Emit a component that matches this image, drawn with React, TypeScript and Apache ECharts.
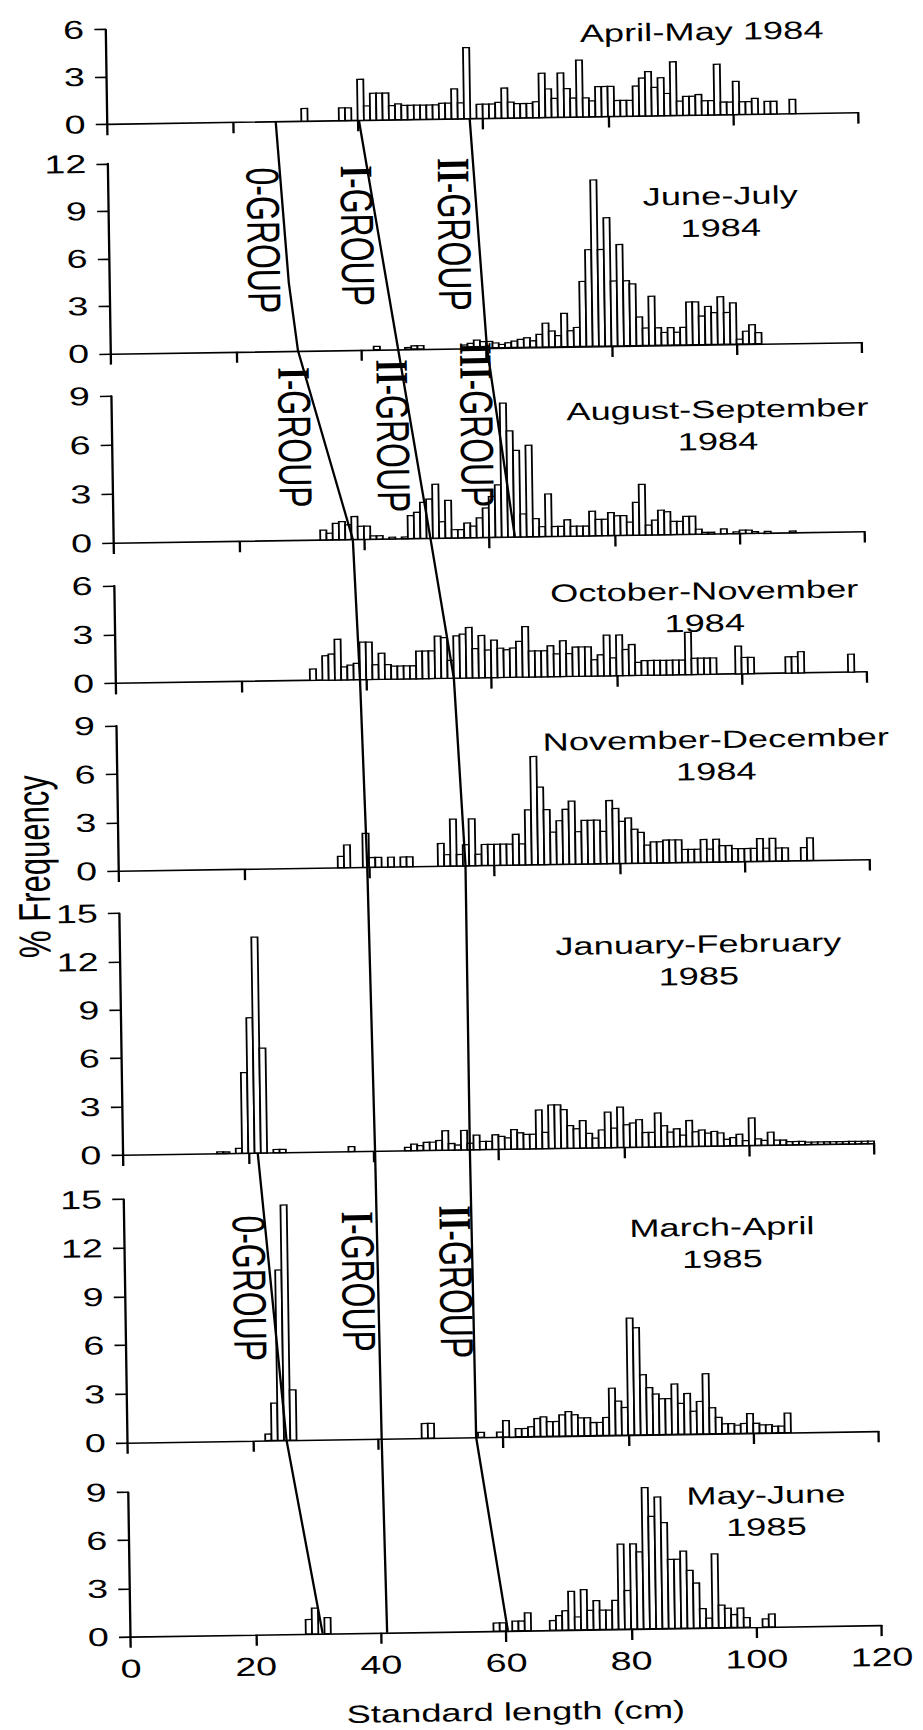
import React, { useEffect, useRef } from "react";
import * as echarts from "echarts";

// ---- scan geometry (the reference figure is stretched sideways and slightly rotated) ----
const SX = 1.45;
const ROT = -0.88;
const W = 923 / SX;
const H = 1730;
const ux = (x: number) => (x - 461.5) / SX + W / 2;

const FONT = "'Liberation Sans', Arial, sans-serif";

// ---- axes ----
const X_MIN = 0;
const X_MAX = 120;
const X_STEP = 20;
const Y_STEP = 3;
const panelMax = [6, 12, 9, 6, 9, 15, 15, 9];

// ---- panel titles ----
const panelTitles: string[][] = [
  ["April-May 1984"],
  ["June-July", "1984"],
  ["August-September", "1984"],
  ["October-November", "1984"],
  ["November-December", "1984"],
  ["January-February", "1985"],
  ["March-April", "1985"],
  ["May-June", "1985"],
];

// ---- histogram data: [bin start (cm), % frequency] ----
const bars1: [number, number][] = [
  [31, 0.8], [37, 0.8], [38, 0.8], [40, 2.6], [41, 0.9], [42, 1.7], [43, 1.7], [44, 1.7], [45, 0.9], [46, 1.0],
  [47, 0.9], [48, 0.9], [49, 0.9], [50, 0.9], [51, 0.9], [52, 0.9], [53, 1.0], [54, 1.0], [55, 1.9], [56, 1.0],
  [57, 4.5], [59, 0.9], [60, 0.9], [61, 0.9], [62, 1.0], [63, 1.9], [64, 1.0], [65, 0.9], [66, 0.9], [67, 0.9],
  [68, 1.0], [69, 2.8], [70, 1.8], [71, 1.2], [72, 2.8], [73, 1.8], [74, 1.2], [75, 3.6], [76, 1.2], [77, 1.0],
  [78, 1.9], [79, 1.9], [80, 1.9], [81, 1.0], [82, 1.0], [83, 1.0], [84, 1.9], [85, 2.4], [86, 2.8], [87, 1.8],
  [88, 2.4], [89, 1.4], [90, 3.4], [91, 0.9], [92, 1.2], [93, 1.2], [94, 1.3], [95, 0.9], [96, 0.9], [97, 3.2],
  [98, 0.8], [99, 0.8], [100, 2.1], [101, 0.8], [102, 0.8], [103, 1.0], [105, 0.8], [106, 0.8], [109, 0.9],
];
const bars2: [number, number][] = [
  [42, 0.2], [47, 0.1], [48, 0.2], [49, 0.2], [56, 0.2], [57, 0.3], [58, 0.5], [59, 0.4], [60, 0.4], [61, 0.3],
  [62, 0.2], [63, 0.3], [64, 0.4], [65, 0.5], [66, 0.6], [67, 0.4], [68, 0.8], [69, 1.5], [70, 1.0], [71, 0.7],
  [72, 2.1], [73, 1.0], [74, 1.2], [75, 4.1], [76, 6.1], [77, 10.5], [78, 6.1], [79, 8.1], [80, 4.1], [81, 6.4],
  [82, 4.1], [83, 3.9], [84, 1.8], [85, 1.1], [86, 3.1], [87, 1.1], [88, 0.8], [89, 1.1], [90, 0.8], [91, 1.1],
  [92, 2.7], [93, 2.7], [94, 1.8], [95, 2.4], [96, 2.0], [97, 3.0], [98, 2.0], [99, 2.6], [100, 0.3], [101, 0.8],
  [102, 1.2], [103, 0.7],
];
const bars3: [number, number][] = [
  [33, 0.6], [34, 0.4], [35, 1.0], [36, 1.1], [37, 0.9], [38, 1.4], [39, 0.8], [40, 0.8], [41, 0.2], [42, 0.2],
  [44, 0.1], [46, 0.1], [47, 1.4], [48, 1.6], [49, 2.2], [50, 2.4], [51, 3.3], [52, 1.0], [53, 2.3], [54, 0.5],
  [55, 0.5], [56, 0.9], [57, 0.7], [58, 1.2], [59, 1.8], [60, 2.5], [61, 3.2], [62, 8.2], [63, 6.5], [64, 5.3],
  [65, 1.4], [66, 5.6], [67, 1.1], [68, 0.6], [69, 2.6], [70, 0.6], [71, 0.6], [72, 1.0], [73, 0.6], [74, 0.6],
  [75, 0.6], [76, 1.5], [77, 1.0], [78, 1.0], [79, 1.4], [80, 1.2], [81, 1.2], [82, 0.8], [83, 2.0], [84, 3.1],
  [85, 0.6], [86, 0.9], [87, 1.5], [88, 1.4], [89, 0.8], [90, 0.8], [91, 1.1], [92, 1.1], [93, 0.3], [94, 0.1],
  [95, 0.1], [97, 0.3], [99, 0.1], [100, 0.2], [101, 0.2], [102, 0.1], [104, 0.1], [108, 0.1],
];
const bars4: [number, number][] = [
  [31, 0.7], [33, 1.5], [34, 1.6], [35, 2.5], [36, 0.8], [37, 0.9], [38, 1.0], [39, 2.3], [40, 2.3], [41, 0.9],
  [42, 1.6], [43, 0.9], [44, 0.8], [45, 0.8], [46, 0.8], [47, 0.8], [48, 1.7], [49, 1.7], [50, 1.7], [51, 2.6],
  [52, 2.5], [53, 1.1], [54, 2.6], [55, 2.7], [56, 3.1], [57, 1.8], [58, 2.6], [59, 1.7], [60, 2.3], [61, 1.8],
  [62, 1.7], [63, 1.8], [64, 2.2], [65, 3.1], [66, 1.6], [67, 1.6], [68, 1.6], [69, 1.9], [70, 1.4], [71, 2.2],
  [72, 1.4], [73, 1.8], [74, 1.8], [75, 1.8], [76, 1.0], [77, 1.3], [78, 2.5], [79, 1.1], [80, 2.5], [81, 1.6],
  [82, 1.9], [83, 0.8], [84, 0.9], [85, 0.9], [86, 0.9], [87, 0.9], [88, 0.9], [89, 0.9], [90, 0.9], [91, 2.6],
  [92, 1.0], [93, 1.0], [94, 1.0], [95, 1.0], [99, 1.7], [100, 1.0], [101, 1.0], [107, 1.0], [108, 1.0], [109, 1.3],
  [117, 1.1],
];
const bars5: [number, number][] = [
  [35, 0.7], [36, 1.4], [39, 2.1], [40, 0.6], [41, 0.6], [43, 0.6], [45, 0.6], [46, 0.6], [51, 1.4], [52, 0.7],
  [53, 2.9], [54, 0.7], [55, 1.3], [56, 2.9], [57, 0.7], [58, 1.3], [59, 1.3], [60, 1.3], [61, 1.3], [62, 1.3],
  [63, 1.9], [64, 1.3], [65, 3.4], [66, 6.7], [67, 4.8], [68, 3.4], [69, 2.0], [70, 2.7], [71, 3.4], [72, 3.9],
  [73, 2.0], [74, 2.7], [75, 2.7], [76, 2.7], [77, 2.0], [78, 3.9], [79, 3.4], [80, 2.6], [81, 2.8], [82, 2.1],
  [83, 1.9], [84, 1.1], [85, 1.3], [86, 1.3], [87, 1.4], [88, 1.4], [89, 1.4], [90, 0.8], [91, 0.8], [92, 0.8],
  [93, 1.4], [94, 0.8], [95, 1.4], [96, 1.0], [97, 1.0], [98, 0.8], [99, 0.8], [100, 0.8], [101, 0.8], [102, 1.4],
  [103, 0.8], [104, 1.4], [105, 0.8], [106, 0.8], [109, 0.8], [110, 1.4],
];
const bars6: [number, number][] = [
  [15, 0.1], [16, 0.1], [18, 0.3], [19, 5.0], [20, 8.4], [21, 13.4], [22, 6.5], [24, 0.2], [25, 0.2], [36, 0.3],
  [45, 0.2], [46, 0.4], [47, 0.3], [48, 0.5], [49, 0.5], [50, 0.6], [51, 1.2], [52, 0.4], [53, 0.3], [54, 1.2],
  [55, 0.4], [56, 0.9], [57, 0.5], [58, 0.5], [59, 0.9], [60, 0.8], [61, 0.7], [62, 1.2], [63, 1.0], [64, 0.9],
  [65, 0.9], [66, 2.4], [67, 1.0], [68, 2.7], [69, 2.7], [70, 2.4], [71, 1.4], [72, 1.2], [73, 1.7], [74, 0.9],
  [75, 0.6], [76, 1.1], [77, 2.2], [78, 1.2], [79, 2.5], [80, 1.4], [81, 1.5], [82, 1.7], [83, 0.9], [84, 0.9],
  [85, 2.1], [86, 1.3], [87, 0.9], [88, 1.1], [89, 0.7], [90, 1.6], [91, 0.9], [92, 1.0], [93, 0.8], [94, 0.9],
  [95, 0.8], [96, 0.4], [97, 0.5], [98, 0.7], [99, 0.3], [100, 1.7], [101, 0.4], [102, 0.3], [103, 0.8], [104, 0.3],
  [105, 0.3], [106, 0.2], [107, 0.2], [108, 0.2], [109, 0.15], [110, 0.15], [111, 0.15], [112, 0.15], [113, 0.15],
  [114, 0.15], [115, 0.15], [116, 0.15], [117, 0.15], [118, 0.15], [119, 0.15],
];
const bars7: [number, number][] = [
  [22, 0.4], [23, 2.3], [24, 10.5], [25, 14.5], [26, 3.1], [47, 0.9], [48, 0.9], [56, 0.3], [59, 0.3], [60, 1.0],
  [62, 0.5], [63, 0.5], [64, 0.6], [65, 1.1], [66, 1.2], [67, 0.9], [68, 0.9], [69, 1.3], [70, 1.5], [71, 1.3],
  [72, 1.1], [73, 1.1], [74, 0.8], [75, 0.8], [76, 1.1], [77, 2.9], [78, 2.1], [79, 1.7], [80, 7.2], [81, 6.6],
  [82, 3.7], [83, 2.9], [84, 2.5], [85, 2.2], [86, 2.2], [87, 3.1], [88, 1.9], [89, 2.5], [90, 1.4], [91, 2.0],
  [92, 3.7], [93, 1.6], [94, 1.0], [95, 0.6], [96, 0.6], [97, 0.5], [98, 0.6], [99, 1.2], [100, 0.6], [101, 0.5],
  [102, 0.5], [103, 0.4], [104, 0.4], [105, 1.2],
];
const bars8: [number, number][] = [
  [28, 0.9], [29, 1.6], [31, 1.0], [58, 0.5], [59, 0.5], [61, 0.6], [62, 0.6], [63, 1.1], [67, 0.6], [68, 0.9],
  [69, 1.2], [70, 2.4], [71, 0.8], [72, 2.5], [73, 1.2], [74, 1.8], [75, 1.2], [76, 1.2], [77, 1.8], [78, 5.3],
  [79, 2.4], [80, 5.3], [81, 4.8], [82, 8.8], [83, 7.0], [84, 8.2], [85, 6.6], [86, 4.3], [87, 4.3], [88, 4.8],
  [89, 3.6], [90, 2.8], [91, 1.2], [92, 0.6], [93, 4.6], [94, 1.4], [95, 1.2], [96, 0.8], [97, 1.2], [98, 0.6],
  [101, 0.5], [102, 0.8],
];
const panelBars = [bars1, bars2, bars3, bars4, bars5, bars6, bars7, bars8];

// ---- cohort (age-group) lines: [panel index, length cm, value in that panel] ----
const lineA: [number, number, number][] = [
  [0, 26.9, 0], [1, 28.6, 4.3], [1, 29.9, 0], [2, 38.2, 0], [3, 39.0, 0], [4, 39.7, 0], [5, 40.25, 0], [6, 40.6, 0], [7, 41.0, 0],
];
const lineB: [number, number, number][] = [
  [0, 40.2, 0], [1, 45.9, 0], [2, 50.6, 0], [3, 54.0, 0], [4, 55.4, 0], [5, 55.4, 0], [6, 55.7, 0], [7, 60.3, 0],
];
const lineC: [number, number, number][] = [[0, 57.9, 0], [1, 60.1, 0], [2, 64.1, 0]];
const lineD: [number, number, number][] = [[5, 21.5, 0], [6, 25.4, 0], [7, 30.7, 0]];
const cohortLines = [lineA, lineB, lineC, lineD];

// ---- cohort labels: [numeral, panel, cm, value] ----
const groupLabels: [string, number, number, number][] = [
  ["0", 1, 24.7, 7.0], ["I", 1, 39.7, 7.2], ["II", 1, 55.2, 7.2],
  ["I", 2, 29.2, 6.3], ["II", 2, 44.9, 6.3], ["III", 2, 58.3, 6.9],
  ["0", 6, 19.9, 9.4], ["I", 6, 37.3, 9.7], ["II", 6, 52.9, 9.6],
];

// ---- layout (reference pixel frame) ----
const panelTop = [24.1, 158.3, 390.8, 580.5, 720.5, 908.1, 1194.1, 1487.1];
const panelBottom = [118.8, 348.3, 537.8, 678.1, 865.8, 1149.8, 1437.5, 1631.5];
const titleCenter: [number, number][] = [
  [714.6, 35.5], [730.7, 216], [724.6, 429.5], [708.6, 611], [717.9, 759.5], [697.3, 964], [716.5, 1247], [756.4, 1515.6],
];
const AXIS_LEFT = 119;
const AXIS_WIDTH = 751;

export default function App() {
  const ref = useRef<HTMLDivElement>(null);

  useEffect(() => {
    const el = ref.current;
    if (!el) return;
    const chart = echarts.init(el, null, { renderer: "svg" });
    const lineStyle = { color: "#000", width: 1.6 };

    const grid = panelMax.map((_, i) => ({
      left: ux(AXIS_LEFT),
      width: AXIS_WIDTH / SX,
      top: panelTop[i],
      height: panelBottom[i] - panelTop[i],
      containLabel: false,
      outerBoundsMode: "none",
    }));
    const xAxis = panelMax.map((_, i) => ({
      type: "value",
      gridIndex: i,
      min: X_MIN,
      max: X_MAX,
      interval: X_STEP,
      axisLine: { show: true, lineStyle },
      axisTick: { show: true, length: 11, lineStyle },
      axisLabel: { show: i === 7, margin: 19, fontSize: 26, color: "#000", fontFamily: FONT },
      splitLine: { show: false },
    }));
    const yAxis = panelMax.map((m, i) => ({
      type: "value",
      gridIndex: i,
      min: 0,
      max: m,
      interval: Y_STEP,
      axisLine: { show: true, lineStyle },
      axisTick: { show: true, length: 8, lineStyle },
      axisLabel: { margin: 15, fontSize: 26, color: "#000", fontFamily: FONT },
      splitLine: { show: false },
    }));
    const series = panelBars.map((d, i) => ({
      type: "custom",
      xAxisIndex: i,
      yAxisIndex: i,
      data: d,
      encode: { x: 0, y: 1 },
      silent: true,
      renderItem: (_p: any, api: any) => {
        const x0 = api.value(0) as number;
        const v = api.value(1) as number;
        const a = api.coord([x0, 0]);
        const b = api.coord([x0 + 1, v]);
        return {
          type: "rect",
          shape: { x: a[0], y: b[1], width: b[0] - a[0], height: a[1] - b[1] },
          style: { fill: "#fff", stroke: "#000", lineWidth: 1.25 },
        };
      },
    }));

    chart.setOption({
      animation: false,
      backgroundColor: "#fff",
      grid,
      xAxis,
      yAxis,
      series,
    });

    const px = (p: number, cm: number, v: number) =>
      chart.convertToPixel({ gridIndex: p } as any, [cm, v]) as number[];

    const graphic: any[] = [];
    cohortLines.forEach((ln) => {
      graphic.push({
        type: "polyline",
        silent: true,
        z: 100,
        shape: { points: ln.map(([p, cm, v]) => px(p, cm, v)) },
        style: { stroke: "#000", lineWidth: 1.6, fill: null },
      });
    });
    groupLabels.forEach(([num, p, cm, v]) => {
      const [x, y] = px(p, cm, v);
      graphic.push({
        type: "text",
        x,
        y,
        rotation: -Math.PI / 2,
        z: 101,
        style: {
          text: num === "0" ? "{g|0-GROUP}" : `{n|${num}}{g|-GROUP}`,
          textAlign: "center",
          textVerticalAlign: "middle",
          fill: "#000",
          rich: {
            n: { fontFamily: "'Liberation Serif', serif", fontWeight: "bold", fontSize: 32, fill: "#000" },
            g: { fontFamily: FONT, fontSize: 32, fill: "#000" },
          },
        },
      });
    });
    panelTitles.forEach((lines, i) => {
      const [cx, cy] = titleCenter[i];
      lines.forEach((t, k) => {
        graphic.push({
          type: "text",
          x: ux(cx),
          y: cy + (k - (lines.length - 1) / 2) * 32,
          style: { text: t, fontSize: 25, fontFamily: FONT, fill: "#000", textAlign: "center", textVerticalAlign: "middle" },
        });
      });
    });
    graphic.push({
      type: "text",
      x: ux(34),
      y: 860,
      rotation: Math.PI / 2,
      style: { text: "% Frequency", fontSize: 31, fontFamily: FONT, fill: "#000", textAlign: "center", textVerticalAlign: "middle" },
    });
    graphic.push({
      type: "text",
      x: ux(503.1),
      y: 1712.7,
      style: { text: "Standard length (cm)", fontSize: 25, fontFamily: FONT, fill: "#000", textAlign: "center", textVerticalAlign: "middle" },
    });

    chart.setOption({ graphic });

    return () => {
      chart.dispose();
    };
  }, []);

  return (
    <div style={{ position: "fixed", left: 0, top: 0, width: 923, height: H, overflow: "hidden", background: "#fff" }}>
      <div
        ref={ref}
        style={{
          position: "absolute",
          left: (923 - W) / 2,
          top: 0,
          width: W,
          height: H,
          transform: `rotate(${ROT}deg) scaleX(${SX})`,
          transformOrigin: "50% 50%",
        }}
      />
    </div>
  );
}
